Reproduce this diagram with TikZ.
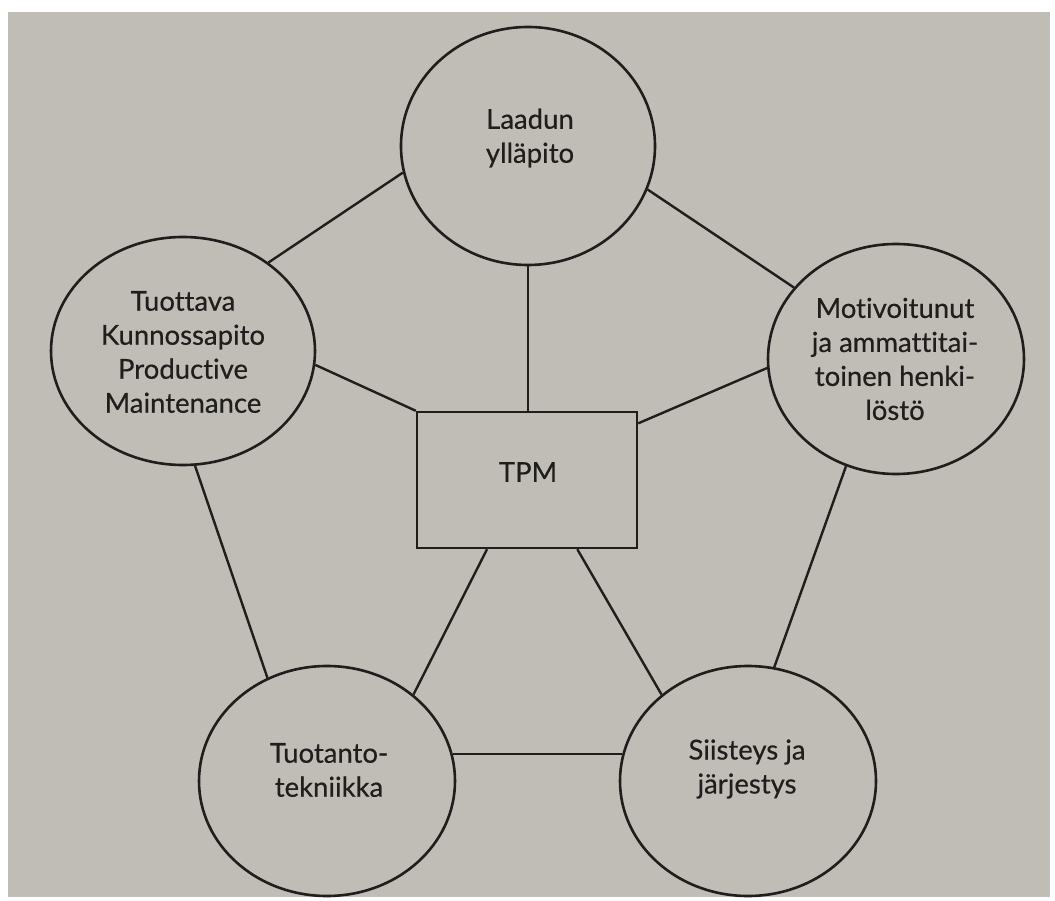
\documentclass[tikz,border=0pt]{standalone}
\usepackage{fontspec}
\setmainfont[Ligatures=NoCommon,FakeBold=0.4]{Lato}
\usetikzlibrary{shapes.geometric,calc}
\definecolor{paper}{RGB}{192,188,182}
\definecolor{ink}{RGB}{32,30,29}
\begin{document}
\begin{tikzpicture}[x=1pt,y=-1pt,
  bub/.style={ellipse, draw=ink, line width=2.6pt, inner sep=0pt},
  lab/.style={align=center, text=ink, font=\fontsize{27.5}{34}\selectfont, inner sep=0pt},
  link/.style={draw=ink, line width=2.4pt}]
\fill[white] (0,0) rectangle (1055,901);
\fill[paper] (8,12) rectangle (1050,897);
\useasboundingbox (0,0) rectangle (1055,901);
% circles
\node[bub, minimum width=254pt, minimum height=238pt] (T) at (528,146) {};
\node[bub, minimum width=264pt, minimum height=228pt] (L) at (183,351) {};
\node[bub, minimum width=256pt, minimum height=230pt] (R) at (896,359) {};
\node[bub, minimum width=256pt, minimum height=230pt] (BL) at (327,781) {};
\node[bub, minimum width=256pt, minimum height=230pt] (BR) at (748,781) {};
\node[draw=ink, line width=2.4pt, minimum width=220pt, minimum height=136pt, inner sep=0pt] (TPM) at (527,480) {};
% labels
\node[lab] (tT) at (530,138) {Laadun\\ylläpito};
\node[lab] (tL) at (183,352) {Tuottava\\Kunnossapito\\Productive\\Maintenance};
\node[lab] (tR) at (895,359) {Motivoitunut\\ja ammattitai-\\toinen henki-\\löstö};
\node[lab] (tBL) at (329,770) {Tuotanto-\\tekniikka};
\node[lab] (tBR) at (747,769) {Siisteys ja\\järjestys};
\node[lab] (tTPM) at (528,472) {TPM};
% connectors
\draw[link] (T.192) -- (L.46);
\draw[link] (T.340) -- (R.145);
\draw[link] (T.south) -- (T.south |- TPM.north);
\draw[link] (L.-6) -- (TPM.north west);
\draw[link] (R.184) -- (TPM.27);
\draw[link] (TPM.240) -- (BL.45);
\draw[link] (TPM.306) -- (BR.135);
\draw[link] (L.276) -- (BL.120);
\draw[link] (R.245) -- (BR.77);
\draw[link] (BL.12) -- (BR.168);
\end{tikzpicture}
\end{document}
